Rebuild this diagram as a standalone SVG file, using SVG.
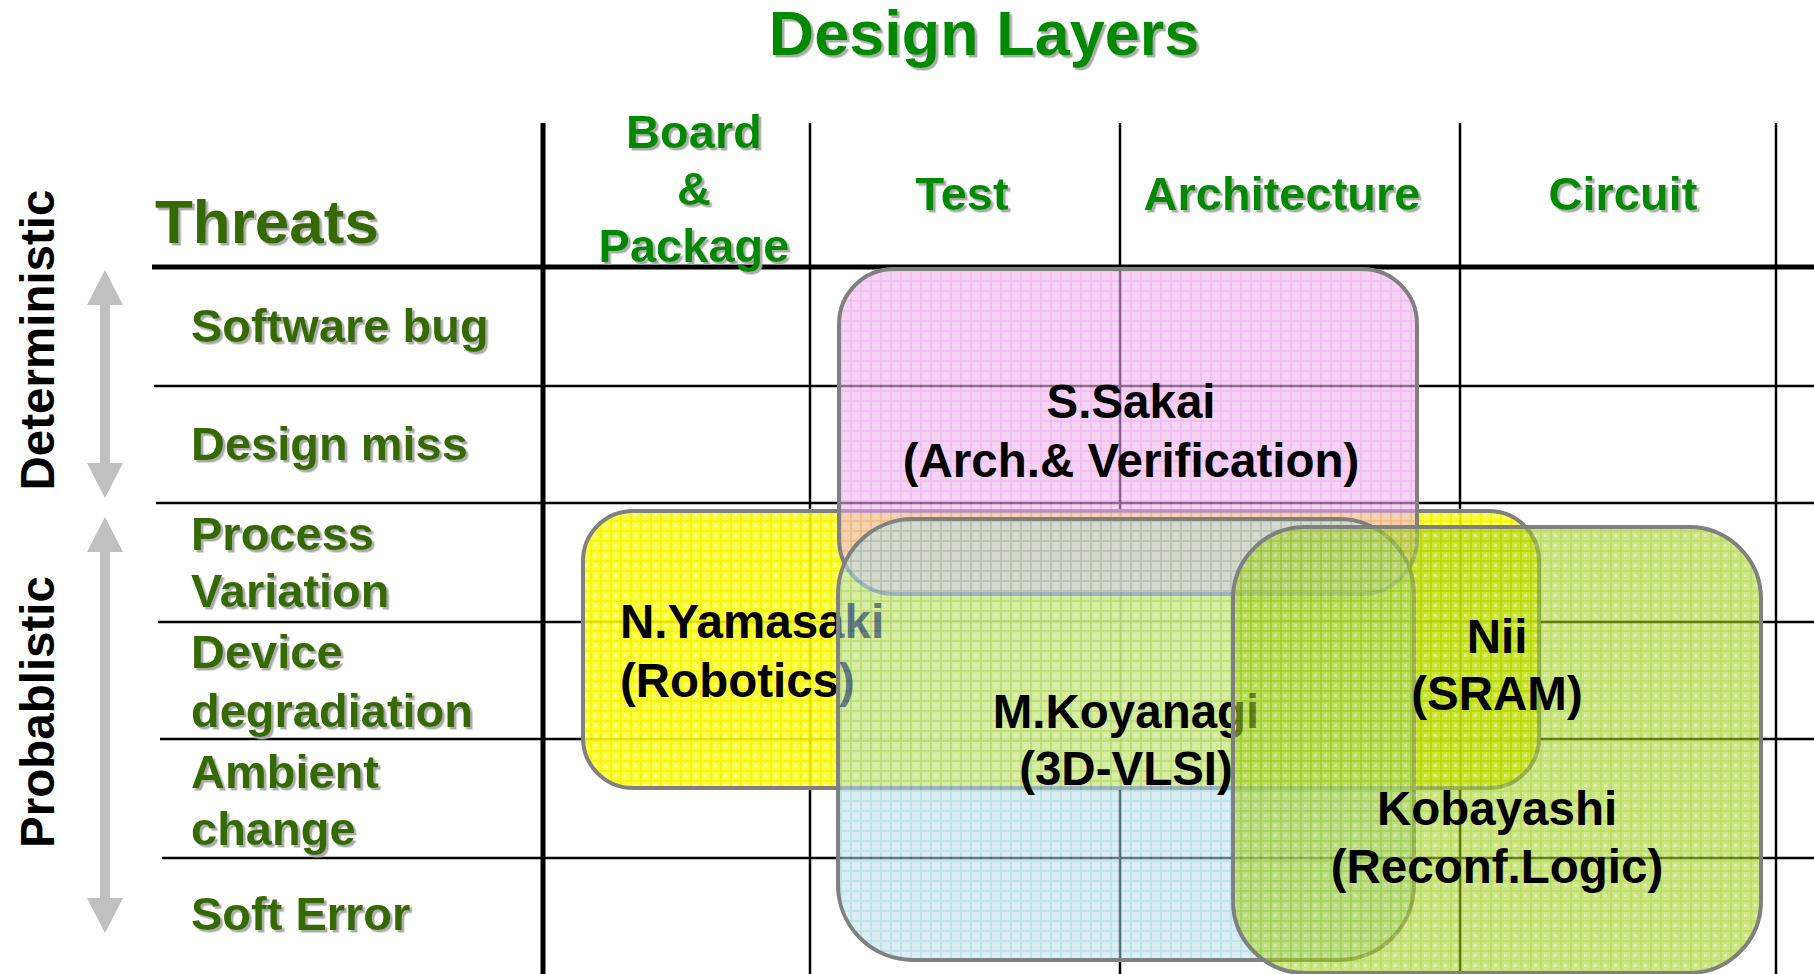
<svg xmlns="http://www.w3.org/2000/svg" width="1814" height="974" viewBox="0 0 1814 974">
  <defs>
    <!-- grey drop shadow used by the green headings -->
    <filter id="shadow" x="-5%" y="-10%" width="115%" height="140%">
      <feDropShadow dx="2.5" dy="2.5" stdDeviation="0" flood-color="#ababab" flood-opacity="1"/>
    </filter>
    <!-- fine grid textures for the research-area boxes -->
    <pattern id="pPink" width="10" height="10" patternUnits="userSpaceOnUse">
      <rect width="10" height="10" fill="#f0b4ed"/>
      <path d="M0 1H10M1 0V10" stroke="#e590e5" stroke-width="1.6"/>
    </pattern>
    <pattern id="pYellow" width="10" height="10" patternUnits="userSpaceOnUse">
      <rect width="10" height="10" fill="#ffff18"/>
      <path d="M0 1H10M1 0V10" stroke="#f2f200" stroke-width="1.6"/>
      <rect x="4" y="4" width="3" height="3" fill="#ffff70"/>
    </pattern>
    <pattern id="pCyan" width="10" height="10" patternUnits="userSpaceOnUse">
      <rect width="10" height="10" fill="#b8e0e7"/>
      <path d="M0 1H10M1 0V10" stroke="#86c6d3" stroke-width="1.6"/>
    </pattern>
    <pattern id="pGreen" width="10" height="10" patternUnits="userSpaceOnUse">
      <rect width="10" height="10" fill="#aad52b"/>
      <path d="M0 1H10M1 0V10" stroke="#8cc400" stroke-width="1.6"/>
      <rect x="4" y="4" width="3" height="3" fill="#c4e270"/>
    </pattern>
  </defs>
  <style>
    text { font-family: "Liberation Sans", Arial, sans-serif; font-weight: bold; }
    .title { font-size: 63px; fill: #008a00; text-anchor: middle; }
    .head { font-size: 47px; fill: #008a00; text-anchor: middle; }
    .threats { font-size: 62px; fill: #356a00; }
    .row { font-size: 47px; fill: #356a00; }
    .lbl { font-size: 47.5px; fill: #000000; text-anchor: middle; }
    .lbl-left { font-size: 47.5px; fill: #000000; text-anchor: start; }
    .side { font-size: 47.5px; fill: #000000; text-anchor: middle; }
    .gline { stroke: #000000; stroke-width: 2.5; fill: none; }
    .gthick { stroke: #000000; stroke-width: 5; fill: none; }
    .box { stroke: #808080; stroke-width: 4; }
    .arrow { fill: #c0c0c0; }
  </style>

  <rect width="1814" height="974" fill="#ffffff"/>

  <!-- table grid -->
  <g id="grid">
    <line class="gthick" x1="152" y1="267" x2="1814" y2="267"/>
    <line class="gline" x1="154" y1="386" x2="1814" y2="386"/>
    <line class="gline" x1="156" y1="503" x2="1814" y2="503"/>
    <line class="gline" x1="158" y1="622" x2="1814" y2="622"/>
    <line class="gline" x1="160" y1="739" x2="1814" y2="739"/>
    <line class="gline" x1="162" y1="858" x2="1814" y2="858"/>
    <line class="gthick" x1="543" y1="123" x2="543" y2="974"/>
    <line class="gline" x1="810" y1="123" x2="810" y2="974"/>
    <line class="gline" x1="1120" y1="123" x2="1120" y2="974"/>
    <line class="gline" x1="1460" y1="123" x2="1460" y2="974"/>
    <line class="gline" x1="1776" y1="123" x2="1776" y2="974"/>
  </g>

  <!-- headings -->
  <g id="headings" filter="url(#shadow)">
    <text class="title" x="984" y="55">Design Layers</text>
    <text class="head" x="694" y="148">Board</text>
    <text class="head" x="694" y="205">&amp;</text>
    <text class="head" x="694" y="262">Package</text>
    <text class="head" x="962" y="210">Test</text>
    <text class="head" x="1282" y="210">Architecture</text>
    <text class="head" x="1623" y="210">Circuit</text>
    <text class="threats" x="155" y="243">Threats</text>
  </g>

  <!-- threat rows -->
  <g id="threats" filter="url(#shadow)">
    <text class="row" x="191" y="342">Software bug</text>
    <text class="row" x="191" y="460">Design miss</text>
    <text class="row" x="191" y="550">Process</text>
    <text class="row" x="191" y="607">Variation</text>
    <text class="row" x="191" y="668">Device</text>
    <text class="row" x="191" y="727">degradiation</text>
    <text class="row" x="191" y="788">Ambient</text>
    <text class="row" x="191" y="845">change</text>
    <text class="row" x="191" y="930">Soft Error</text>
  </g>

  <!-- side axis: deterministic / probabilistic -->
  <g id="axis">
    <polygon class="arrow" points="105,270 123,305 110,305 110,463 123,463 105,498 87,463 100,463 100,305 87,305"/>
    <polygon class="arrow" points="105,517 123,552 110,552 110,898 123,898 105,933 87,898 100,898 100,552 87,552"/>
    <text class="side" transform="translate(54,340) rotate(-90)">Deterministic</text>
    <text class="side" transform="translate(54,712) rotate(-90)">Probablistic</text>
  </g>

  <!-- research areas, back to front -->
  <g id="yamasaki">
    <rect class="box" x="583" y="511" width="956" height="277" rx="50" ry="50" fill="url(#pYellow)" fill-opacity="0.9"/>
    <text class="lbl-left" x="620" y="638">N.Yamasaki</text>
    <text class="lbl-left" x="620" y="697">(Robotics)</text>
  </g>

  <g id="sakai">
    <rect class="box" x="839" y="269" width="578" height="325" rx="55" ry="55" fill="url(#pPink)" fill-opacity="0.6"/>
    <text class="lbl" x="1131" y="418">S.Sakai</text>
    <text class="lbl" x="1131" y="477">(Arch.&amp; Verification)</text>
  </g>

  <g id="koyanagi">
    <rect class="box" x="838" y="519" width="576" height="441" rx="75" ry="75" fill="url(#pCyan)" fill-opacity="0.55"/>
    <text class="lbl" x="1126" y="728">M.Koyanagi</text>
    <text class="lbl" x="1126" y="785">(3D-VLSI)</text>
  </g>

  <g id="kobayashi">
    <rect class="box" x="1233" y="527" width="528" height="446" rx="72" ry="72" fill="url(#pGreen)" fill-opacity="0.6"/>
    <text class="lbl" x="1497" y="825">Kobayashi</text>
    <text class="lbl" x="1497" y="883">(Reconf.Logic)</text>
  </g>

  <g id="nii">
    <text class="lbl" x="1497" y="653">Nii</text>
    <text class="lbl" x="1497" y="710">(SRAM)</text>
  </g>

  <!-- no connectors in this chart -->
  <g id="connectors"/>
</svg>
